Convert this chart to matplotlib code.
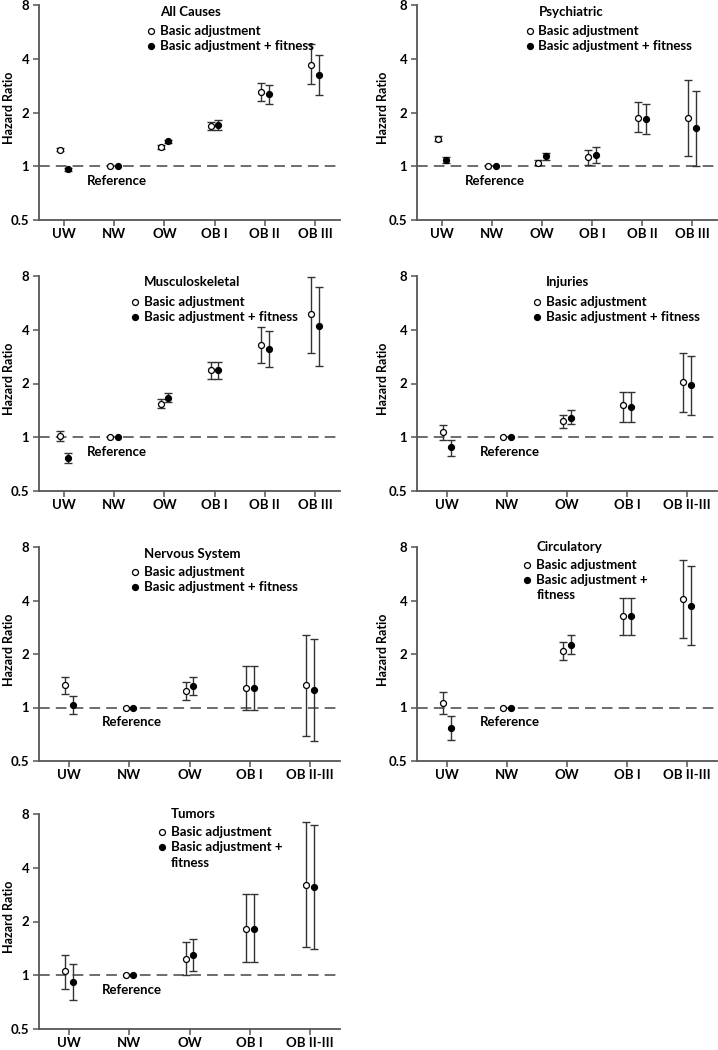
import numpy as np
import matplotlib
matplotlib.use("Agg")
import matplotlib.pyplot as plt

plt.rcParams['font.family'] = ['Lato', 'DejaVu Sans']
plt.rcParams['font.weight'] = 'bold'

nan = np.nan
cats6 = ["UW", "NW", "OW", "OB I", "OB II", "OB III"]
cats5 = ["UW", "NW", "OW", "OB I", "OB II-III"]
yticks = [0.5, 1, 2, 4, 8]
ytick_labels = ["0.5", "1", "2", "4", "8"]
legend_labels = ["Basic adjustment", "Basic adjustment + fitness"]

# All causes
all_b = [1.24, 1.00, 1.28, 1.68, 2.59, 3.70]
all_b_lo = [1.21, nan, 1.25, 1.59, 2.31, 2.87]
all_b_hi = [1.27, nan, 1.31, 1.77, 2.92, 4.81]
all_f = [0.96, 1.00, 1.38, 1.71, 2.53, 3.24]
all_f_lo = [0.94, nan, 1.35, 1.60, 2.24, 2.51]
all_f_hi = [0.98, nan, 1.41, 1.82, 2.84, 4.19]

# Psychiatric
psy_b = [1.43, 1.00, 1.04, 1.13, 1.87, 1.86]
psy_b_lo = [1.38, nan, 1.01, 1.02, 1.56, 1.14]
psy_b_hi = [1.48, nan, 1.08, 1.24, 2.28, 3.03]
psy_f = [1.08, 1.00, 1.14, 1.15, 1.84, 1.63]
psy_f_lo = [1.04, nan, 1.09, 1.04, 1.51, 1.00]
psy_f_hi = [1.12, nan, 1.18, 1.28, 2.22, 2.65]

# Musculoskeletal
mus_b = [1.01, 1.00, 1.54, 2.37, 3.28, 4.90]
mus_b_lo = [0.95, nan, 1.46, 2.12, 2.59, 2.97]
mus_b_hi = [1.08, nan, 1.63, 2.64, 4.14, 7.90]
mus_f = [0.77, 1.00, 1.66, 2.37, 3.12, 4.19]
mus_f_lo = [0.72, nan, 1.57, 2.12, 2.46, 2.52]
mus_f_hi = [0.82, nan, 1.77, 2.64, 3.93, 6.90]

# Injuries
inj_b = [1.07, 1.00, 1.23, 1.51, 2.03]
inj_b_lo = [0.97, nan, 1.13, 1.22, 1.39]
inj_b_hi = [1.17, nan, 1.34, 1.79, 2.97]
inj_f = [0.88, 1.00, 1.29, 1.48, 1.95]
inj_f_lo = [0.79, nan, 1.18, 1.22, 1.33]
inj_f_hi = [0.96, nan, 1.42, 1.79, 2.85]

# Nervous system
nrv_b = [1.33, 1.00, 1.24, 1.28, 1.33]
nrv_b_lo = [1.19, nan, 1.10, 0.97, 0.69]
nrv_b_hi = [1.49, nan, 1.39, 1.71, 2.55]
nrv_f = [1.03, 1.00, 1.32, 1.28, 1.26]
nrv_f_lo = [0.92, nan, 1.18, 0.97, 0.65]
nrv_f_hi = [1.16, nan, 1.49, 1.71, 2.43]

# Circulatory
cir_b = [1.06, 1.00, 2.07, 3.26, 4.07]
cir_b_lo = [0.92, nan, 1.85, 2.56, 2.46]
cir_b_hi = [1.23, nan, 2.34, 4.14, 6.80]
cir_f = [0.77, 1.00, 2.26, 3.28, 3.73]
cir_f_lo = [0.66, nan, 2.01, 2.56, 2.24]
cir_f_hi = [0.89, nan, 2.56, 4.14, 6.24]

# Tumors
tum_b = [1.05, 1.00, 1.24, 1.82, 3.20]
tum_b_lo = [0.84, nan, 1.00, 1.18, 1.44]
tum_b_hi = [1.30, nan, 1.54, 2.84, 7.17]
tum_f = [0.92, 1.00, 1.30, 1.82, 3.12]
tum_f_lo = [0.73, nan, 1.05, 1.18, 1.40]
tum_f_hi = [1.15, nan, 1.60, 2.84, 6.93]

W, H = 718, 1050
fig = plt.figure(figsize=(W / 100, H / 100), dpi=100)

SPINE = "#555555"
LINE = "#333333"
FS = 9.5


def make_ax(x0, x1, ytop, ybot):
    return fig.add_axes([x0 / W, 1 - ybot / H, (x1 - x0) / W, (ybot - ytop) / H])


def panel(ax, cats, b, blo, bhi, f, flo, fhi, title, tx, ty, ly, wrap=False, ylx=15):
    n = len(cats)
    x = np.arange(n)
    axw = ax.get_position().width * W
    px_per = axw / n
    off = 3.8 / px_per
    ax.axhline(1, color="#444444", lw=1.1, dashes=(7, 4), zorder=1)
    for vals, lo, hi, xo, face in [(b, blo, bhi, -off, "white"), (f, flo, fhi, off, "black")]:
        vals = np.array(vals, float)
        lo = np.array(lo, float)
        hi = np.array(hi, float)
        yerr = np.vstack([vals - lo, hi - vals])
        ax.errorbar(x + xo, vals, yerr=yerr, fmt="none", ecolor=LINE, elinewidth=1.0,
                    capsize=3, capthick=1.0, zorder=2)
        ax.plot(x + xo, vals, "o", ms=4.3, mfc=face, mec="black", mew=0.9, zorder=3, ls="none")
    ax.set_yscale("log", base=2)
    ax.set_ylim(0.5, 8)
    ax.set_xlim(-0.5, n - 0.5)
    ax.set_yticks(yticks)
    ax.set_yticklabels(ytick_labels)
    ax.minorticks_off()
    ax.set_xticks(x)
    ax.set_xticklabels(cats)
    for s in ["top", "right"]:
        ax.spines[s].set_visible(False)
    for s in ["left", "bottom"]:
        ax.spines[s].set_color(SPINE)
        ax.spines[s].set_linewidth(1.3)
    ax.tick_params(axis="both", length=4, width=1.1, color=SPINE, labelsize=FS, pad=3)
    ax.tick_params(axis="x", pad=2)
    ax.set_ylabel("Hazard Ratio", fontsize=9, fontweight="bold")
    ax.yaxis.set_label_coords(-ylx / axw, 0.52)
    # reference label
    ax.annotate("Reference", xy=(1, 1), xycoords="data", xytext=(-27, -15),
                textcoords="offset pixels", fontsize=FS, va="center", ha="left")
    # title and legend
    ax.text(tx, ty, title, transform=ax.transAxes, fontsize=FS, va="center", ha="left")
    mx = tx - 9 / axw
    ax.plot([mx], [ly[0]], "o", ms=4.3, mfc="white", mec="black", mew=0.9,
            transform=ax.transAxes, clip_on=False)
    ax.plot([mx], [ly[1]], "o", ms=4.3, mfc="black", mec="black", mew=0.9,
            transform=ax.transAxes, clip_on=False)
    ax.text(tx, ly[0], legend_labels[0], transform=ax.transAxes, fontsize=FS, va="center", ha="left")
    if wrap:
        ax.text(tx, ly[1], "Basic adjustment +", transform=ax.transAxes, fontsize=FS,
                va="center", ha="left")
        ax.text(tx, ly[2], "fitness", transform=ax.transAxes, fontsize=FS, va="center", ha="left")
    else:
        ax.text(tx, ly[1], legend_labels[1], transform=ax.transAxes, fontsize=FS,
                va="center", ha="left")


rows = [(5, 220), (276, 491), (547, 761), (814, 1029)]
L = (39, 340)
R = (417, 717)

ax1 = make_ax(L[0], L[1], *rows[0])
panel(ax1, cats6, all_b, all_b_lo, all_b_hi, all_f, all_f_lo, all_f_hi,
      "All Causes", 0.403, 0.969, (0.88, 0.81), ylx=24)
ax2 = make_ax(R[0], R[1], *rows[0])
panel(ax2, cats6, psy_b, psy_b_lo, psy_b_hi, psy_f, psy_f_lo, psy_f_hi,
      "Psychiatric", 0.405, 0.969, (0.88, 0.81), ylx=28)
ax3 = make_ax(L[0], L[1], *rows[1])
panel(ax3, cats6, mus_b, mus_b_lo, mus_b_hi, mus_f, mus_f_lo, mus_f_hi,
      "Musculoskeletal", 0.35, 0.97, (0.88, 0.81), ylx=24)
ax4 = make_ax(R[0], R[1], *rows[1])
panel(ax4, cats5, inj_b, inj_b_lo, inj_b_hi, inj_f, inj_f_lo, inj_f_hi,
      "Injuries", 0.43, 0.97, (0.88, 0.81), ylx=28)
ax5 = make_ax(L[0], L[1], *rows[2])
panel(ax5, cats5, nrv_b, nrv_b_lo, nrv_b_hi, nrv_f, nrv_f_lo, nrv_f_hi,
      "Nervous System", 0.35, 0.966, (0.884, 0.814), ylx=24)
ax6 = make_ax(R[0], R[1], *rows[2])
panel(ax6, cats5, cir_b, cir_b_lo, cir_b_hi, cir_f, cir_f_lo, cir_f_hi,
      "Circulatory", 0.398, 1.0, (0.918, 0.845, 0.775), wrap=True, ylx=28)
ax7 = make_ax(L[0], L[1], *rows[3])
panel(ax7, cats5, tum_b, tum_b_lo, tum_b_hi, tum_f, tum_f_lo, tum_f_hi,
      "Tumors", 0.437, 1.0, (0.918, 0.845, 0.772), wrap=True, ylx=24)

fig.savefig("out.png", dpi=100)
